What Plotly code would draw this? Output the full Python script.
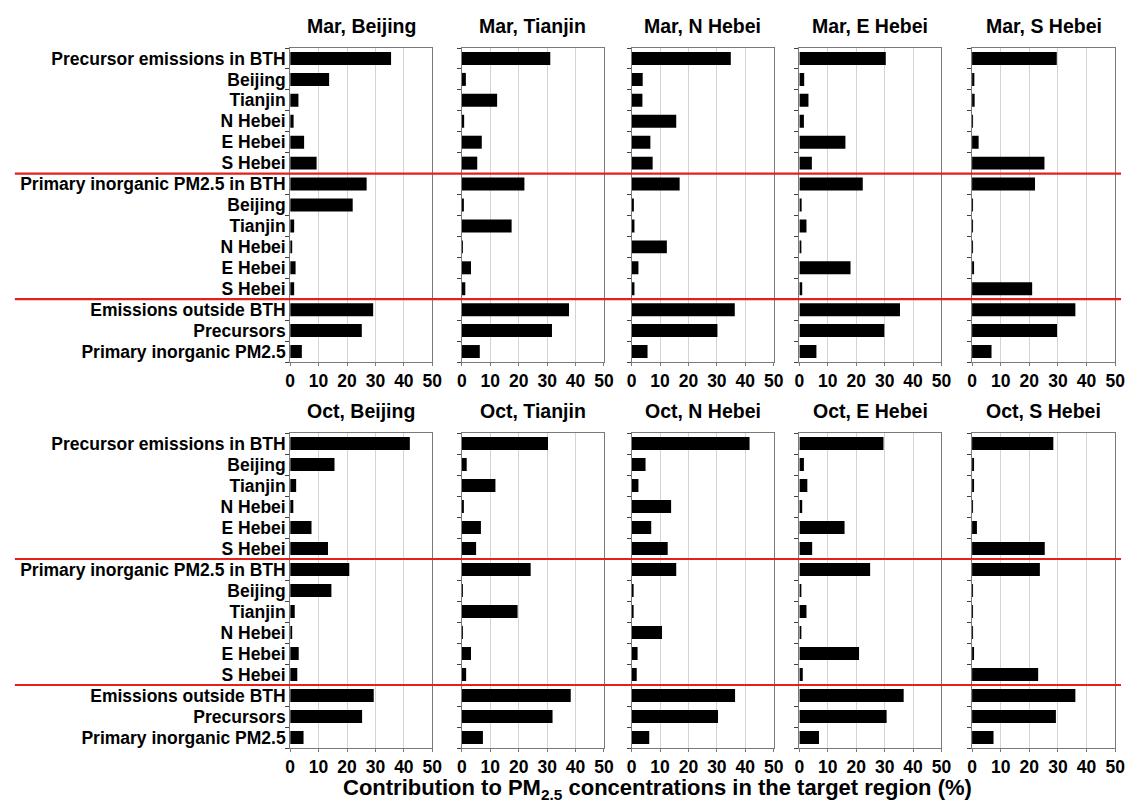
import plotly.graph_objects as go

# Source categories (top to bottom)
categories = [
    "Precursor emissions in BTH", "Beijing", "Tianjin", "N Hebei", "E Hebei", "S Hebei",
    "Primary inorganic PM2.5 in BTH", "Beijing", "Tianjin", "N Hebei", "E Hebei", "S Hebei",
    "Emissions outside BTH", "Precursors", "Primary inorganic PM2.5",
]

# Contribution (%) for each target region
mar_beijing = [35.5, 13.7, 2.9, 1.2, 4.9, 9.3, 26.9, 22.0, 1.4, 0.5, 1.9, 1.4, 29.2, 25.2, 4.1]
mar_tianjin = [31.1, 1.4, 12.4, 0.8, 7.0, 5.4, 22.0, 0.7, 17.5, 0.35, 3.2, 1.2, 37.7, 31.7, 6.3]
mar_nhebei = [34.9, 3.9, 3.8, 15.7, 6.6, 7.4, 16.9, 0.8, 1.0, 12.4, 2.4, 1.0, 36.3, 30.2, 5.6]
mar_ehebei = [30.4, 1.7, 3.2, 1.6, 16.2, 4.4, 22.3, 0.8, 2.5, 0.6, 18.0, 1.0, 35.4, 29.9, 6.0]
mar_shebei = [29.6, 0.8, 0.9, 0.3, 2.3, 25.3, 22.0, 0.2, 0.3, 0.1, 0.6, 21.0, 36.1, 29.7, 6.8]

oct_beijing = [42.1, 15.6, 2.1, 1.1, 7.5, 13.3, 20.8, 14.5, 1.6, 0.6, 3.0, 2.5, 29.4, 25.3, 4.7]
oct_tianjin = [30.3, 1.7, 11.8, 0.6, 6.7, 5.0, 24.2, 0.2, 19.6, 0.2, 3.2, 1.5, 38.3, 31.9, 7.4]
oct_nhebei = [41.5, 4.9, 2.4, 13.9, 6.9, 12.7, 15.7, 0.6, 0.7, 10.7, 2.1, 1.8, 36.4, 30.4, 6.2]
oct_ehebei = [29.6, 1.6, 2.8, 1.0, 15.9, 4.5, 24.9, 0.5, 2.5, 0.5, 21.0, 1.2, 36.7, 30.7, 6.9]
oct_shebei = [28.4, 0.6, 0.5, 0.3, 1.7, 25.4, 23.7, 0.2, 0.2, 0.2, 0.7, 23.1, 36.1, 29.3, 7.5]

panel_titles = [
    ["Mar, Beijing", "Mar, Tianjin", "Mar, N Hebei", "Mar, E Hebei", "Mar, S Hebei"],
    ["Oct, Beijing", "Oct, Tianjin", "Oct, N Hebei", "Oct, E Hebei", "Oct, S Hebei"],
]
panel_values = [
    [mar_beijing, mar_tianjin, mar_nhebei, mar_ehebei, mar_shebei],
    [oct_beijing, oct_tianjin, oct_nhebei, oct_ehebei, oct_shebei],
]
x_ticks = [0, 10, 20, 30, 40, 50]
group_breaks = [5.5, 11.5]

W, H = 1136, 802
col_px = [(289, 433), (463, 607), (635, 779), (805, 949), (980, 1125)]
row_px = [(48, 362), (433, 748)]
FONT = "Liberation Sans, Arial, sans-serif"
FRAME = "#7a7a7a"

fig = go.Figure()
layout = dict(
    width=W, height=H,
    margin=dict(l=0, r=0, t=0, b=0),
    paper_bgcolor="white", plot_bgcolor="white",
    showlegend=False,
    font=dict(family=FONT, color="black"),
)
annotations = []
shapes = []
positions = list(range(len(categories)))

idx = 0
for r in range(2):
    for c in range(5):
        idx += 1
        sx = "" if idx == 1 else str(idx)
        fig.add_trace(go.Bar(
            x=panel_values[r][c], y=positions, orientation="h",
            marker=dict(color="black", line=dict(width=0)),
            width=0.62, xaxis="x" + sx, yaxis="y" + sx,
        ))
        x0, x1 = col_px[c]
        y0, y1 = row_px[r]
        layout["xaxis" + sx] = dict(
            domain=[x0 / W, x1 / W], anchor="y" + sx,
            range=[0, 50], tickmode="array", tickvals=x_ticks,
            ticks="outside", ticklen=3, tickcolor=FRAME, tickwidth=1,
            showgrid=True, gridcolor="#d4d4d4", gridwidth=1,
            showline=True, mirror=True, linecolor=FRAME, linewidth=1,
            zeroline=False,
            tickfont=dict(size=17.5, family=FONT, weight="bold", color="black"),
        )
        layout["yaxis" + sx] = dict(
            domain=[1 - y1 / H, 1 - y0 / H], anchor="x" + sx,
            range=[len(categories) - 0.5, -0.5],
            tickmode="array", tickvals=positions, ticktext=categories,
            showticklabels=(c == 0), ticks="outside", ticklen=0.01, tickcolor="white",
            minor=dict(tickmode="linear", tick0=0.5, dtick=1,
                       ticks="outside", ticklen=4, tickcolor="#404040", tickwidth=1,
                       showgrid=False),
            showgrid=False, zeroline=False,
            showline=True, mirror=True, linecolor=FRAME, linewidth=1,
            tickfont=dict(size=17.5, family=FONT, weight="bold", color="black"),
        )
        annotations.append(dict(
            text=panel_titles[r][c], xref="paper", yref="paper",
            x=(x0 + x1) / 2 / W, y=1 - (y0 - 22) / H,
            showarrow=False, xanchor="center", yanchor="middle",
            font=dict(size=19.5, family=FONT, weight="bold", color="black"),
        ))
    # red separators between source groups, spanning the full row
    ysx = "" if r == 0 else "6"
    for b in group_breaks:
        shapes.append(dict(
            type="line", xref="paper", yref="y" + ysx,
            x0=10 / W, x1=1131 / W, y0=b, y1=b,
            line=dict(color="#e3211c", width=2.2),
        ))

annotations.append(dict(
    text="Contribution to PM<sub>2.5</sub> concentrations in the target region (%)",
    xref="paper", yref="paper", x=661 / W, y=0,
    showarrow=False, xanchor="center", yanchor="bottom", yshift=-3,
    font=dict(size=22, family=FONT, weight="bold", color="black"),
))

layout["annotations"] = annotations
layout["shapes"] = shapes
fig.update_layout(**layout)
fig.write_html("out.html")
